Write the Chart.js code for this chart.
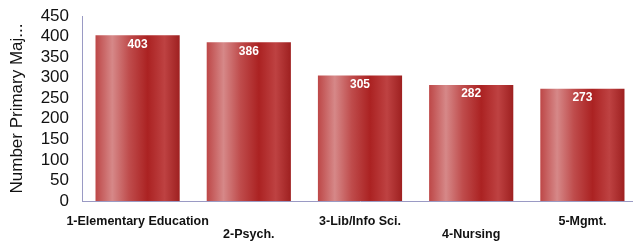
<!DOCTYPE html>
<html>
<head>
<meta charset="utf-8">
<script src="https://cdn.jsdelivr.net/npm/chart.js@4"></script>
<style>
  html, body { margin: 0; padding: 0; background: #fff; overflow: hidden; }
  /* plot area runs a few px past the right edge, like the original */
  #wrap { width: 638px; height: 241px; position: relative; }
</style>
</head>
<body>
<div id="wrap"><canvas id="myChart"></canvas></div>
<script>
// chart data
var categories = ["1-Elementary Education", "2-Psych.", "3-Lib/Info Sci.", "4-Nursing", "5-Mgmt."];
var majors = [403, 386, 305, 282, 273];
var yTicks = [0, 50, 100, 150, 200, 250, 300, 350, 400, 450];

// paint each bar with a horizontal "cylinder" gradient
var barShade = {
  id: "barShade",
  beforeDatasetsDraw: function (chart) {
    var ctx = chart.ctx;
    chart.getDatasetMeta(0).data.forEach(function (bar) {
      var left = bar.x - bar.width / 2;
      var g = ctx.createLinearGradient(left, 0, left + bar.width, 0);
      g.addColorStop(0, "#bd4747");
      g.addColorStop(0.2, "#d68888");
      g.addColorStop(0.4, "#bf4c4c");
      g.addColorStop(0.62, "#ab2222");
      g.addColorStop(0.82, "#be4242");
      g.addColorStop(1, "#9e2020");
      // options objects are shared between bars, so give each its own copy
      bar.options = Object.assign({}, bar.options, { backgroundColor: g });
    });
  },
  afterDatasetsDraw: function (chart) {
    var ctx = chart.ctx;
    ctx.save();
    ctx.fillStyle = "#ffffff";
    ctx.font = "bold 12px 'Liberation Sans', Arial, sans-serif";
    ctx.textAlign = "center";
    ctx.textBaseline = "top";
    chart.getDatasetMeta(0).data.forEach(function (bar, i) {
      ctx.fillText(majors[i], bar.x, bar.y + 3);
    });
    ctx.restore();
  }
};

new Chart(document.getElementById("myChart"), {
  type: "bar",
  data: {
    labels: categories,
    datasets: [{
      data: majors,
      backgroundColor: "#b03030",
      barPercentage: 0.757,
      categoryPercentage: 1.0
    }]
  },
  options: {
    responsive: true,
    maintainAspectRatio: false,
    animation: false,
    layout: { padding: { top: 16, right: 0, left: 5, bottom: 0 } },
    plugins: { legend: { display: false }, tooltip: { enabled: false } },
    scales: {
      x: {
        grid: { display: false, drawTicks: false },
        border: { display: true, color: "#9a9ac4" },
        afterFit: function (axis) {
          axis.height = 40;
          axis.paddingLeft = 0;
          axis.paddingRight = 0;
        },
        ticks: {
          autoSkip: false,
          maxRotation: 0,
          color: "#111",
          padding: 14,
          font: { family: "'Liberation Sans', Arial, sans-serif", size: 12.5, weight: "bold", lineHeight: 1.05 },
          callback: function (v, i) {
            return i % 2 ? ["", categories[i]] : categories[i];
          }
        }
      },
      y: {
        min: 0,
        max: 450,
        afterBuildTicks: function (axis) {
          axis.ticks = yTicks.map(function (v) { return { value: v }; });
        },
        afterFit: function (axis) {
          axis.width = 77;
          axis.paddingTop = 0;
          axis.paddingBottom = 0;
        },
        grid: { display: false, drawTicks: false },
        border: { display: true, color: "#9a9ac4" },
        ticks: {
          autoSkip: false,
          color: "#111",
          padding: 13,
          font: { family: "'Liberation Sans', Arial, sans-serif", size: 17 }
        },
        title: {
          display: true,
          text: "Number Primary Maj...",
          color: "#111",
          padding: 2,
          font: { family: "'Liberation Sans', Arial, sans-serif", size: 17 }
        }
      }
    }
  },
  plugins: [barShade]
});
</script>
</body>
</html>
